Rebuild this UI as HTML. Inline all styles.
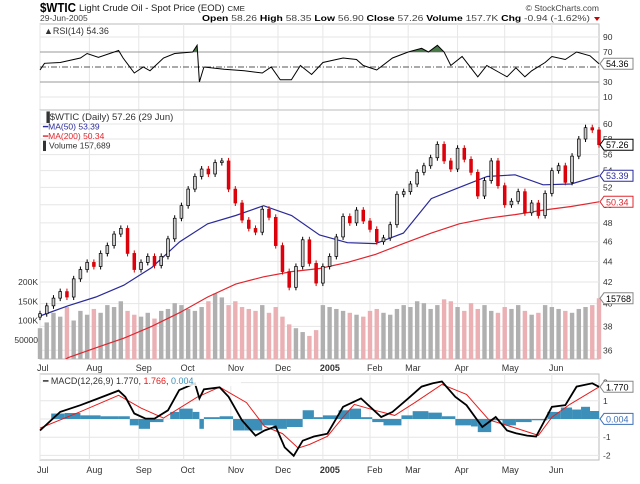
<!DOCTYPE html>
<html><head><meta charset="utf-8"><style>
html,body{margin:0;padding:0;background:#fff;}
svg{display:block;font-family:"Liberation Sans",sans-serif;}
</style></head><body>
<svg id="c" width="640" height="484" xmlns="http://www.w3.org/2000/svg">
<g>
<text x="40" y="12" font-size="13" font-weight="bold" textLength="36" lengthAdjust="spacingAndGlyphs">$WTIC</text>
<text x="79" y="11" font-size="9" fill="#222" textLength="166" lengthAdjust="spacingAndGlyphs">Light Crude Oil - Spot Price (EOD) <tspan font-size="7.5">CME</tspan></text>
<text x="599" y="11" font-size="8.5" fill="#444" text-anchor="end">© StockCharts.com</text>
<text x="40" y="21" font-size="8.5" fill="#444">29-Jun-2005</text>
<text x="202" y="21" font-size="8.5" fill="#444" textLength="388" lengthAdjust="spacingAndGlyphs"><tspan font-weight="bold" fill="#000">Open</tspan> 58.26 <tspan font-weight="bold" fill="#000">High</tspan> 58.35 <tspan font-weight="bold" fill="#000">Low</tspan> 56.90 <tspan font-weight="bold" fill="#000">Close</tspan> 57.26 <tspan font-weight="bold" fill="#000">Volume</tspan> 157.7K <tspan font-weight="bold" fill="#000">Chg</tspan> -0.94 (-1.62%)</text>
<path d="M594 17 L600 17 L597 21 Z" fill="#c00"/>
</g>
<g id="rsi"></g>
<g id="main"></g>
<g id="macd"></g>
</svg>
<script>
// ---- data ----
const monthLabels = ["Jul","Aug","Sep","Oct","Nov","Dec","2005","Feb","Mar","Apr","May","Jun"];
const monthDays = [0,22,44,64,85,106,126,147,164,186,207,228];
const closes = [39.1,39.8,40.5,41.1,40.6,42.3,43.2,43.9,43.5,44.8,45.6,46.8,47.4,44.8,43.2,43.9,44.5,43.6,44.5,46.3,48.5,49.9,51.8,53.3,54.2,53.6,55.0,55.2,51.8,50.2,48.3,47.4,47.0,49.5,48.6,45.6,43.0,41.5,43.5,46.2,43.8,41.9,43.5,44.5,46.5,48.7,48.0,49.4,48.2,47.3,46.0,46.4,47.8,51.2,51.5,52.4,53.8,54.6,55.6,57.3,55.2,54.2,56.8,55.4,53.8,51.0,52.8,55.2,52.2,50.0,50.4,51.5,49.1,50.2,48.8,51.3,54.0,54.6,52.6,55.8,58.0,59.5,59.2,57.26];
const volumes = [80,95,120,110,135,100,125,115,130,120,140,135,150,125,115,110,120,105,125,130,145,140,130,125,135,150,170,160,140,150,135,130,125,140,120,135,110,90,80,70,60,75,140,135,130,125,120,115,110,125,130,120,115,130,140,135,150,145,130,140,155,150,135,125,145,130,140,125,120,135,130,140,125,115,120,140,135,130,125,120,130,135,140,157.7];
const ma50 = [38.9,39.8,40.6,41.7,43.4,46.0,47.9,48.8,49.9,48.8,46.7,45.9,45.8,46.9,50.7,52.0,53.3,53.5,52.3,52.4,53.39];
const ma200 = [34.0,35.4,36.2,37.0,38.0,39.2,40.6,41.8,42.5,43.0,43.3,43.9,44.7,45.8,46.9,47.9,48.5,48.9,49.4,49.8,50.34];
const priceTicks = [36,38,40,42,44,46,48,50,52,54,56,58,60];
const volTicks = [50,100,150,200];
const volTickLabels = ["50000","100K","150K","200K"];
const rsiDays = [0,2,9,18,21,26,35,37,42,46,49,55,60,68,70,71,73,82,91,99,103,107,112,116,121,126,135,141,144,150,157,164,170,173,177,180,183,188,195,199,205,208,212,216,219,225,228,234,239,245,249];
const rsiVals = [46,55,56,62,68,63,72,62,42,50,45,62,68,70,79,30,50,47,45,42,50,33,33,52,40,56,62,60,52,46,62,70,75,70,79,70,52,64,37,52,42,37,49,37,45,56,64,60,70,65,54.36];
const rsiTicks = [10,30,50,70,90];
const macdDays = [0,9,18,26,35,38,42,47,51,57,62,69,71,73,80,84,90,96,100,105,109,113,117,122,128,135,143,152,157,164,170,175,179,185,190,197,203,208,212,217,221,228,234,239,246,249];
const macdVals = [-0.63,0.39,0.76,1.13,1.56,1.22,0.30,0.02,0.02,0.48,1.59,1.96,1.13,1.63,1.74,1.22,-0.07,-0.91,-0.63,-0.41,-1.56,-2.02,-1.19,-0.96,-0.81,0.67,1.13,0.11,0.39,1.13,1.78,1.96,2.06,1.22,0.76,-0.44,0.11,-0.63,-0.78,-0.91,-0.96,0.67,0.76,1.78,1.96,1.77];
const sigDays = [0,18,35,45,55,70,80,92,100,108,115,120,128,135,140,150,158,167,179,190,200,212,222,228,236,249];
const sigVals = [-0.5,0.4,1.3,0.6,0.05,1.2,1.75,0.9,-0.4,-0.8,-1.6,-1.4,-0.95,0.1,0.8,0.45,0.2,0.9,1.9,1.35,-0.05,-0.5,-0.9,0.1,0.8,1.766];
const histDays = [0,5,11,18,27,35,40,44,49,55,58,62,68,71,73,80,86,91,99,104,110,117,122,126,133,138,143,148,153,161,166,173,179,185,192,195,201,206,212,219,226,232,237,241,245,249];
const histVals = [0,0.3,0.33,0.2,0.15,0.15,-0.35,-0.54,-0.17,0,0.39,0.57,0.39,-0.54,0.1,0.15,-0.63,-0.63,-0.35,-0.54,-0.44,0.48,0.1,0.2,0.48,0.57,0.1,-0.17,-0.35,0.2,0.43,0.35,0.15,-0.35,-0.41,-0.72,-0.07,-0.35,-0.17,-0.07,0.39,0.63,0.52,0.67,0.44,0.004];
const macdTicks = [-2,-1,0,1,2];

// ---- scales ----
const X0=40, X1=599, LASTDAY=249;
const xDay = d => X0 + d/LASTDAY*(X1-X0);
const yP = v => 124 + Math.log(60/v)*443;
const yV = k => 359 - k*0.385;
const yR = v => 52 + (70-v)*0.75;
const yM = m => 419 - m*18.2;
const NS="http://www.w3.org/2000/svg";
function mk(parent, tag, attrs){const e=document.createElementNS(NS,tag);for(const k in attrs)e.setAttribute(k,attrs[k]);parent.appendChild(e);return e;}
const rsiG=document.getElementById('rsi'), mainG=document.getElementById('main'), macdG=document.getElementById('macd');

function panel(g, top, bot){
  const r=mk(g,'rect',{x:X0,y:top,width:X1-X0,height:bot-top,fill:'#fff',stroke:'#bbb','stroke-width':1});
  
  
  monthDays.forEach(d=>{
    const l=mk(g,'line',{x1:xDay(d),x2:xDay(d),y1:top,y2:bot,stroke:'#e6e6e6'});
    
    
  });
}
function hgrid(g,y,col){
  const l=mk(g,'line',{x1:X0,x2:X1,y1:y,y2:y,stroke:col||'#e6e6e6'});
  
  
  return l;
}
function rtext(g,y,txt,name){
  const t=mk(g,'text',{x:603,y:y+3,'font-size':8.5,fill:'#333'});t.textContent=txt;
  
  
}
function valBox(g,y,txt,col,name){
  const w=txt.length*4.8+5;
  const p=mk(g,'path',{d:`M600 ${y} L604 ${y-5.5} L${604+w} ${y-5.5} L${604+w} ${y+5.5} L604 ${y+5.5} Z`,fill:'#fff',stroke:col,'stroke-width':1});
  
  
  const t=mk(g,'text',{x:606,y:y+3.5,'font-size':9,fill:col==='#888'?'#000':col});t.textContent=txt;
  
  
}
function lineFrom(g,days,vals,yf,col,w,name){
  const d=days.map((dd,i)=>(i?'L':'M')+xDay(dd).toFixed(1)+' '+yf(vals[i]).toFixed(1)).join(' ');
  const p=mk(g,'path',{d:d,fill:'none',stroke:col,'stroke-width':w});
  
  
  return p;
}

// ---- RSI panel ----
panel(rsiG,24,110);
[90,10].forEach(v=>hgrid(rsiG,yR(v)));
hgrid(rsiG,yR(70),'#999');hgrid(rsiG,yR(30),'#999');
const mid=hgrid(rsiG,yR(50),'#555');mid.setAttribute('stroke-dasharray','6 2 1 2');
rsiTicks.forEach(v=>{ if(v!==50) rtext(rsiG,yR(v),String(v),'rsi-tick-label'); });
const clipR=mk(rsiG,'clipPath',{id:'above70'});mk(clipR,'rect',{x:X0,y:24,width:X1-X0,height:yR(70)-24});
const fillD='M'+xDay(rsiDays[0])+' '+yR(70)+' '+rsiDays.map((d,i)=>'L'+xDay(d).toFixed(1)+' '+yR(rsiVals[i]).toFixed(1)).join(' ')+' L'+xDay(rsiDays[rsiDays.length-1])+' '+yR(70)+' Z';
const rf=mk(rsiG,'path',{d:fillD,fill:'#4a7a4a','clip-path':'url(#above70)'});


lineFrom(rsiG,rsiDays,rsiVals,yR,'#000',1,'rsi-line');
valBox(rsiG,yR(54.36),'54.36','#888','rsi-value');
const rl=mk(rsiG,'text',{x:44,y:34,'font-size':9,fill:'#333'});rl.textContent='▲RSI(14) 54.36';



// ---- Main panel ----
panel(mainG,110,359);
priceTicks.forEach(v=>{hgrid(mainG,yP(v));rtext(mainG,yP(v),String(v),'price-tick-label');});
volTicks.forEach((k,i)=>{
  const t=mk(mainG,'text',{x:38,y:yV(k)+3,'font-size':8.5,fill:'#333','text-anchor':'end'});t.textContent=volTickLabels[i];
  
  
});
const step=LASTDAY/(closes.length-1);
volumes.forEach((v,i)=>{
  const up=i===0||closes[i]>=closes[i-1];
  const x=xDay(i*step);
  const b=mk(mainG,'rect',{x:x-2.2,y:yV(v),width:4.4,height:359-yV(v),fill:up?'#b0b0b0':'#eab0b4'});
  
  
});
const ma50Days=ma50.map((_,i)=>i*LASTDAY/(ma50.length-1));
const ma200Days=ma200.map((_,i)=>i*LASTDAY/(ma200.length-1));
const clipM=mk(mainG,'clipPath',{id:'mainclip'});mk(clipM,'rect',{x:X0,y:110,width:X1-X0,height:249});
lineFrom(mainG,ma200Days,ma200,yP,'#e0262e',1.2,'ma200-line').setAttribute('clip-path','url(#mainclip)');
lineFrom(mainG,ma50Days,ma50,yP,'#2a2a9a',1.2,'ma50-line');
closes.forEach((c,i)=>{
  const o=i===0?c-0.3:closes[i-1];
  const x=xDay(i*step);
  const up=c>=o;
  const top=yP(Math.max(o,c)), bot=yP(Math.min(o,c));
  const w=mk(mainG,'line',{x1:x,x2:x,y1:top-3,y2:bot+3,stroke:up?'#000':'#d40000'});
  
  
  const r=mk(mainG,'rect',{x:x-1.4,y:top,width:2.8,height:Math.max(1,bot-top),fill:up?'#ccc':'#e0000f',stroke:up?'#000':'#d40000','stroke-width':0.7});
  
  
});
valBox(mainG,yP(57.26),'57.26','#000','last-price');
valBox(mainG,yP(53.39),'53.39','#2a2a9a','ma50-value');
valBox(mainG,yP(50.34),'50.34','#e0262e','ma200-value');
valBox(mainG,yV(157.7),'15768','#888','volume-value');
const leg=[['▐$WTIC (Daily) 57.26 (29 Jun)','#333',9.5],['━MA(50) 53.39','#2a2a9a',8.5],['━MA(200) 50.34','#e0262e',8.5],['▌Volume 157,689','#333',8.5]];
leg.forEach((l,i)=>{
  const t=mk(mainG,'text',{x:43,y:120+i*9.5,'font-size':l[2],fill:l[1]});t.textContent=l[0];
  
  
});
function monthAxis(g,y){
  monthDays.forEach((d,i)=>{
    const t=mk(g,'text',{x:xDay(d)-3,y:y,'font-size':9,fill:'#333','font-weight':monthLabels[i]==='2005'?'bold':'normal'});
    t.textContent=monthLabels[i];
    
    
  });
}
monthAxis(mainG,371);

// ---- MACD panel ----
panel(macdG,374,460);
macdTicks.forEach(m=>{hgrid(macdG,yM(m));if(m!==0)rtext(macdG,yM(m),String(m),'macd-tick-label');});
histDays.forEach((d,i)=>{
  const nd=i<histDays.length-1?histDays[i+1]:d+1;
  const x0=xDay(d),x1=xDay(nd);
  const v=histVals[i];
  const r=mk(macdG,'rect',{x:x0,y:Math.min(yM(v),yM(0)),width:Math.max(1,x1-x0),height:Math.abs(yM(v)-yM(0)),fill:'#3b8fb8'});
  
  
});
lineFrom(macdG,sigDays,sigVals,yM,'#e81d1d',1,'macd-signal-line');
lineFrom(macdG,macdDays,macdVals,yM,'#000',1.8,'macd-line');
const lb=mk(macdG,'rect',{x:41,y:375,width:200,height:11,fill:'#fff','fill-opacity':0.85});


valBox(macdG,yM(1.77),'1.770','#888','macd-value');
valBox(macdG,yM(0.004),'0.004','#3b6fb8','histogram-value');
const ml=mk(macdG,'text',{x:43,y:384,'font-size':9,fill:'#333'});
ml.innerHTML='━ MACD(12,26,9) 1.770, <tspan fill="#e81d1d">1.766</tspan>, <tspan fill="#3b8fb8">0.004</tspan>';


monthAxis(macdG,473);
</script>
</body></html>
